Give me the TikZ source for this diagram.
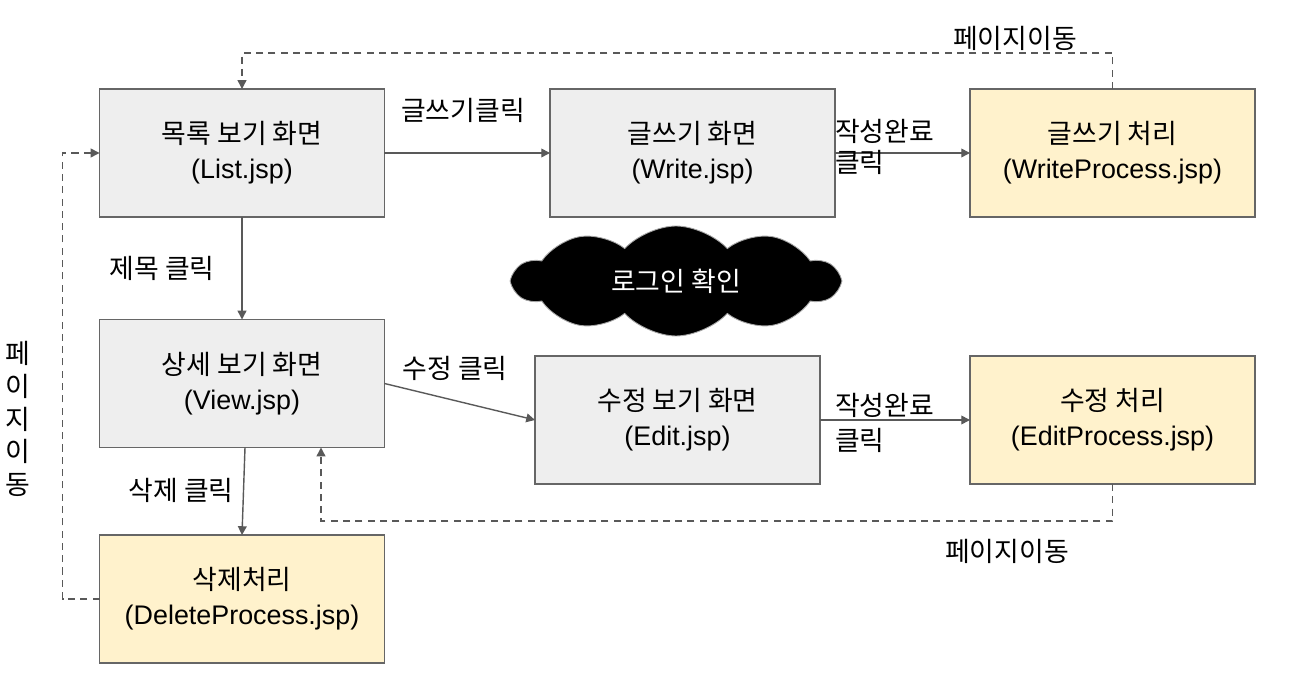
\documentclass[tikz,border=0pt]{standalone}
\usepackage{fontspec}
\setmainfont{Liberation Sans}
\newfontfamily\kr{Noto Sans CJK KR}
\usetikzlibrary{shapes.symbols,arrows.meta}
\definecolor{boxline}{HTML}{666666}
\definecolor{arrline}{HTML}{595959}
\definecolor{gfill}{HTML}{EEEEEE}
\definecolor{yfill}{HTML}{FFF2CC}
\begin{document}
\begin{tikzpicture}[x=0.02cm,y=-0.02cm,
  every node/.style={inner sep=0pt, outer sep=0pt},
  bx/.style={draw=boxline, line width=1.1pt, minimum width=5.7cm, minimum height=2.56cm,
    align=center, font=\fontsize{15.3}{20}\selectfont},
  gbox/.style={bx, fill=gfill},
  ybox/.style={bx, fill=yfill},
  lbl/.style={font=\kr\fontsize{15.3}{20}\selectfont, align=left},
  arr/.style={draw=arrline, line width=0.8pt, -{Triangle[length=5pt,width=5pt]}},
  darr/.style={arr, dash pattern=on 4pt off 3pt}
]
\useasboundingbox (0,0) rectangle (1304,688);

\node[gbox] (list) at (242,153) {{\kr 목록 보기 화면}\\(List.jsp)};
\node[gbox] (write) at (692.5,153) {{\kr 글쓰기 화면}\\(Write.jsp)};
\node[ybox] (wproc) at (1112.5,153) {{\kr 글쓰기 처리}\\(WriteProcess.jsp)};
\node[gbox] (view) at (242,383.5) {{\kr 상세 보기 화면}\\(View.jsp)};
\node[gbox] (edit) at (677.5,420) {{\kr 수정 보기 화면}\\(Edit.jsp)};
\node[ybox] (eproc) at (1112.5,420) {{\kr 수정 처리}\\(EditProcess.jsp)};
\node[ybox] (del) at (242,599) {{\kr 삭제처리}\\(DeleteProcess.jsp)};

\node[cloud, cloud puffs=10, cloud puff arc=95, aspect=3, fill=black, draw=gray!70,
  line width=0.5pt, minimum width=6.5cm, minimum height=2.2cm, text=white,
  font=\kr\fontsize{15.3}{20}\selectfont] (login) at (676,281) {로그인 확인};

\coordinate (vb) at (321,447.5);

\draw[arr] (list.east) -- (write.west);
\draw[arr] (write.east) -- (wproc.west);
\draw[arr] (list.south) -- (view.north);
\draw[arr] (view.east) -- (edit.west);
\draw[arr] (edit.east) -- (eproc.west);
\draw[arr] ([xshift=0.06cm]view.south) -- (del.north);

\draw[darr] (wproc.north) -- ++(0,-36) -| (list.north);
\draw[darr] (eproc.south) -- ++(0,37) -| (vb);
\draw[darr] (del.west) -- ++(-37,0) |- (list.west);

\node[lbl] (l1) at (463,110) {글쓰기클릭};
\node[lbl, anchor=base west] (l2) at (835,173) {작성완료\\[-2pt]클릭};
\node[lbl, anchor=base west] (l3) at (835,451) {작성완료\\클릭};
\node[lbl] (l4) at (1015,38) {페이지이동};
\node[lbl] (l5) at (162,268) {제목 클릭};
\node[lbl] (l6) at (455,368) {수정 클릭};
\node[lbl] (l7) at (181,490) {삭제 클릭};
\node[lbl] (l8) at (1007,551) {페이지이동};
\node[lbl, align=center] (l9) at (18,419) {페\\[-1.3pt]이\\[-1.3pt]지\\[-1.3pt]이\\[-1.3pt]동};
\end{tikzpicture}
\end{document}
